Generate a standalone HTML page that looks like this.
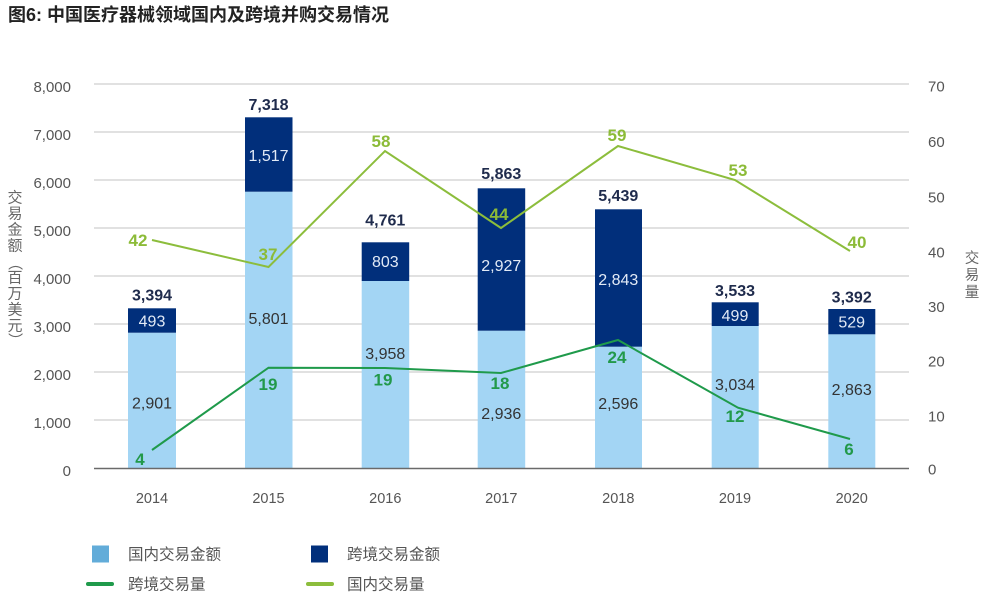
<!DOCTYPE html>
<html><head><meta charset="utf-8">
<style>
html,body{margin:0;padding:0;background:#fff;}
svg{display:block;}
</style></head>
<body>
<svg width="1000" height="596" viewBox="0 0 1000 596" xmlns="http://www.w3.org/2000/svg" font-family="'Liberation Sans','Noto Sans CJK SC',sans-serif">
<rect width="1000" height="596" fill="#fff"/>
<!-- Title -->
<text x="8" y="21" font-size="18" font-weight="bold" fill="#222">图6: 中国医疗器械领域国内及跨境并购交易情况</text>

<!-- gridlines -->
<g stroke="#cfcfcf" stroke-width="1.2">
<line x1="94" y1="84" x2="909" y2="84"/>
<line x1="94" y1="132" x2="909" y2="132"/>
<line x1="94" y1="180" x2="909" y2="180"/>
<line x1="94" y1="228" x2="909" y2="228"/>
<line x1="94" y1="276" x2="909" y2="276"/>
<line x1="94" y1="324" x2="909" y2="324"/>
<line x1="94" y1="372" x2="909" y2="372"/>
<line x1="94" y1="420" x2="909" y2="420"/>
</g>

<!-- left ticks -->
<g font-size="15" fill="#555" text-anchor="end">
<text x="71" y="92">8,000</text>
<text x="71" y="140">7,000</text>
<text x="71" y="188">6,000</text>
<text x="71" y="236">5,000</text>
<text x="71" y="284">4,000</text>
<text x="71" y="332">3,000</text>
<text x="71" y="380">2,000</text>
<text x="71" y="428">1,000</text>
<text x="71" y="476">0</text>
</g>
<!-- right ticks -->
<g font-size="15" fill="#555">
<text x="928" y="91.5">70</text>
<text x="928" y="147">60</text>
<text x="928" y="202.5">50</text>
<text x="928" y="257.5">40</text>
<text x="928" y="312">30</text>
<text x="928" y="366.5">20</text>
<text x="928" y="421.5">10</text>
<text x="928" y="474.5">0</text>
</g>

<!-- left axis title -->
<g font-size="15" fill="#666" text-anchor="middle" font-family="'Noto Sans CJK SC',sans-serif">
<text x="15" y="202.5">交</text>
<text x="15" y="218.5">易</text>
<text x="15" y="234.5">金</text>
<text x="15" y="250.5">额</text>
<text x="0" y="0" transform="translate(15,263) rotate(90) translate(0,5)">（</text>
<text x="15" y="282.5">百</text>
<text x="15" y="298.5">万</text>
<text x="15" y="314.5">美</text>
<text x="15" y="330.5">元</text>
<text x="0" y="0" transform="translate(15,340) rotate(90) translate(0,5)">）</text>
</g>
<!-- right axis title -->
<g font-size="14.5" fill="#666" text-anchor="middle" font-family="'Noto Sans CJK SC',sans-serif">
<text x="972" y="263">交</text>
<text x="972" y="280">易</text>
<text x="972" y="297">量</text>
</g>

<!-- bars -->
<g>
<rect x="128" y="332.7" width="48" height="135.3" fill="#a3d5f4"/>
<rect x="128" y="308.3" width="48" height="24.4" fill="#012f7b"/>
<rect x="245" y="191.7" width="47.5" height="276.3" fill="#a3d5f4"/>
<rect x="245" y="117.3" width="47.5" height="74.4" fill="#012f7b"/>
<rect x="361.7" y="281" width="47.5" height="187" fill="#a3d5f4"/>
<rect x="361.7" y="242.3" width="47.5" height="38.7" fill="#012f7b"/>
<rect x="477.7" y="330.7" width="47.5" height="137.3" fill="#a3d5f4"/>
<rect x="477.7" y="188.3" width="47.5" height="142.4" fill="#012f7b"/>
<rect x="595" y="346.7" width="47" height="121.3" fill="#a3d5f4"/>
<rect x="595" y="209.3" width="47" height="137.4" fill="#012f7b"/>
<rect x="711.7" y="326" width="47" height="142" fill="#a3d5f4"/>
<rect x="711.7" y="302.3" width="47" height="23.7" fill="#012f7b"/>
<rect x="828.3" y="334.3" width="47" height="133.7" fill="#a3d5f4"/>
<rect x="828.3" y="309" width="47" height="25.3" fill="#012f7b"/>
</g>

<!-- baseline -->
<line x1="94" y1="468.5" x2="909" y2="468.5" stroke="#6a6a6a" stroke-width="1.6"/>

<!-- totals -->
<g font-size="16" font-weight="bold" fill="#1f2b4c" text-anchor="middle">
<text x="152" y="300.5">3,394</text>
<text x="268.5" y="110">7,318</text>
<text x="385.3" y="225.5">4,761</text>
<text x="501.3" y="179">5,863</text>
<text x="618.3" y="201">5,439</text>
<text x="735" y="296">3,533</text>
<text x="851.7" y="302.5">3,392</text>
</g>
<!-- cross-border labels -->
<g font-size="16" fill="#e2eaf6" text-anchor="middle">
<text x="152" y="326.5">493</text>
<text x="268.5" y="161">1,517</text>
<text x="385.3" y="267">803</text>
<text x="501.3" y="271">2,927</text>
<text x="618.3" y="285">2,843</text>
<text x="735" y="321">499</text>
<text x="851.7" y="327.5">529</text>
</g>
<!-- domestic labels -->
<g font-size="16" fill="#333" text-anchor="middle">
<text x="152" y="408.5">2,901</text>
<text x="268.5" y="324">5,801</text>
<text x="385.3" y="359">3,958</text>
<text x="501.3" y="419">2,936</text>
<text x="618.3" y="409">2,596</text>
<text x="735" y="390">3,034</text>
<text x="851.7" y="395">2,863</text>
</g>

<!-- lines -->
<polyline points="152,240 268.5,267 385,151 501,228 618,146 735,180 850,251" fill="none" stroke="#8cbd3c" stroke-width="2"/>
<polyline points="152,450 268.5,367.7 385,368 501,373 618,340 738,407.7 850,439" fill="none" stroke="#1f9a4b" stroke-width="2"/>

<!-- light green labels -->
<g font-size="17" font-weight="bold" fill="#8cbb38" text-anchor="middle">
<text x="138" y="246">42</text>
<text x="268" y="260">37</text>
<text x="381" y="147">58</text>
<text x="499" y="220">44</text>
<text x="617" y="141">59</text>
<text x="738" y="176">53</text>
<text x="857" y="248">40</text>
</g>
<!-- dark green labels -->
<g font-size="17" font-weight="bold" fill="#22994a" text-anchor="middle">
<text x="140" y="465">4</text>
<text x="268" y="390">19</text>
<text x="383" y="385.5">19</text>
<text x="500" y="389">18</text>
<text x="617" y="363">24</text>
<text x="735" y="422">12</text>
<text x="849" y="455">6</text>
</g>

<!-- years -->
<g font-size="14.5" fill="#555" text-anchor="middle">
<text x="152" y="503">2014</text>
<text x="268.5" y="503">2015</text>
<text x="385.3" y="503">2016</text>
<text x="501.3" y="503">2017</text>
<text x="618.3" y="503">2018</text>
<text x="735" y="503">2019</text>
<text x="851.7" y="503">2020</text>
</g>

<!-- legend -->
<rect x="92" y="545.5" width="17" height="17" fill="#62acd9"/>
<rect x="311" y="545.5" width="17" height="17" fill="#012f7b"/>
<line x1="88" y1="584" x2="112" y2="584" stroke="#1f9a4b" stroke-width="4" stroke-linecap="round"/>
<line x1="308" y1="584" x2="332" y2="584" stroke="#8cbd3c" stroke-width="4" stroke-linecap="round"/>
<g font-size="15.5" fill="#555">
<text x="128" y="559.5">国内交易金额</text>
<text x="347" y="559.5">跨境交易金额</text>
<text x="128" y="589.5">跨境交易量</text>
<text x="347" y="589.5">国内交易量</text>
</g>
</svg>
</body></html>
